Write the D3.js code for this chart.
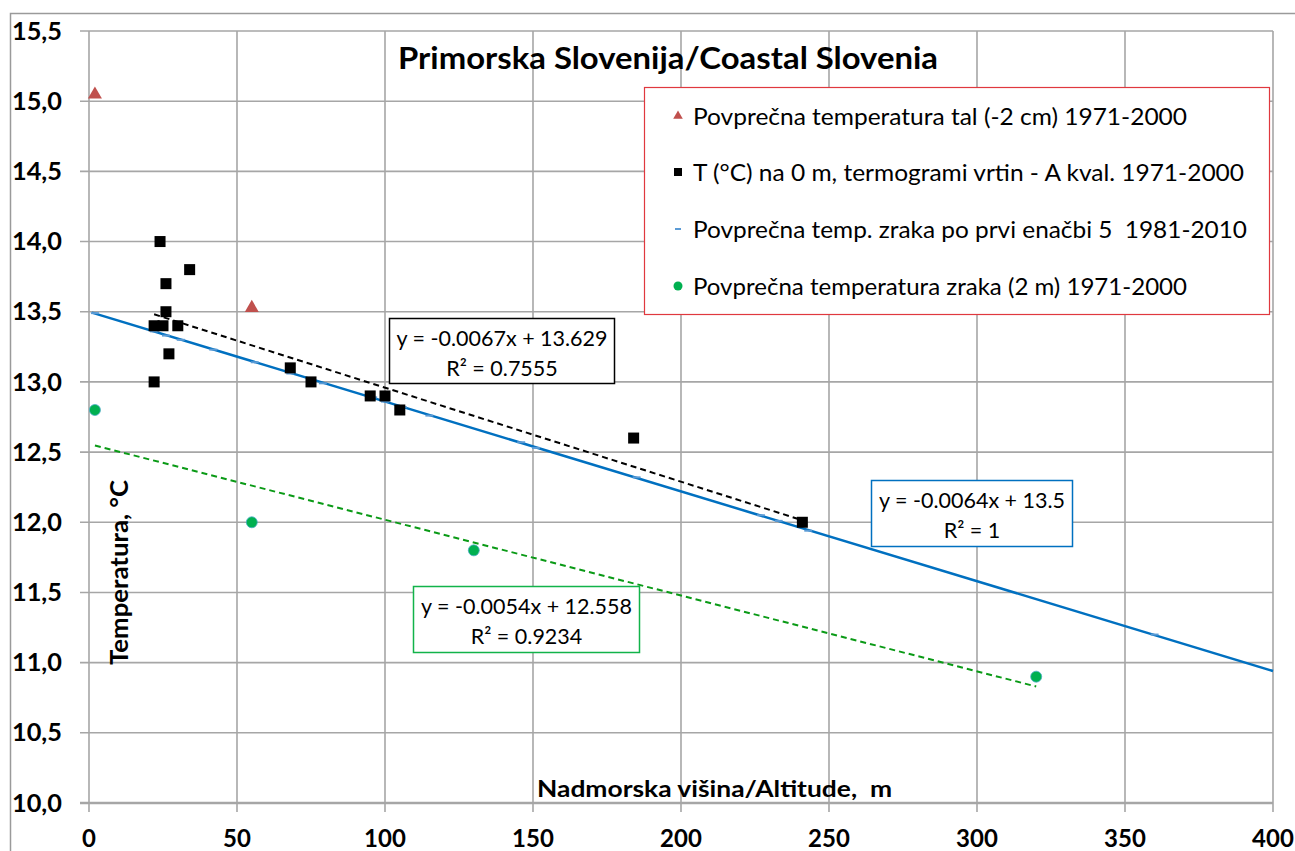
<!DOCTYPE html>
<html><head><meta charset="utf-8">
<script src="https://cdn.jsdelivr.net/npm/d3@7"></script>
<style>body{margin:0;background:#fff}svg{display:block}text{white-space:pre}</style>
</head><body>
<svg id="c" width="1295" height="851"></svg>
<script>
// ---- data ----
const soilX = [2, 55];
const soilY = [15.04, 13.52];
const wellX = [24, 34, 26, 26, 22, 25, 30, 27, 22, 68, 75, 95, 100, 105, 184, 241];
const wellY = [14.0, 13.8, 13.7, 13.5, 13.4, 13.4, 13.4, 13.2, 13.0, 13.1, 13.0, 12.9, 12.9, 12.8, 12.6, 12.0];
const eqX = [2, 22, 26, 31, 42, 56, 68, 79, 96, 100, 106, 115, 146, 151, 185, 227, 233, 243, 360];
const eqY = [13.49, 13.36, 13.33, 13.30, 13.23, 13.14, 13.06, 12.99, 12.89, 12.86, 12.82, 12.76, 12.57, 12.53, 12.32, 12.05, 12.01, 11.94, 11.20];
const airX = [2, 55, 130, 320];
const airY = [12.8, 12.0, 11.8, 10.9];
// trendlines: [slope, intercept, xStart, xEnd]
const trendWell = [-0.0067, 13.629, 22, 241];
const trendEq = [-0.0064, 13.5, 1, 400];
const trendAir = [-0.0054, 12.558, 2, 320];
const xTicks = [0, 50, 100, 150, 200, 250, 300, 350, 400];
const yTicks = [10.0, 10.5, 11.0, 11.5, 12.0, 12.5, 13.0, 13.5, 14.0, 14.5, 15.0, 15.5];
const legendLabels = [
  "Povprečna temperatura tal (-2 cm) 1971-2000",
  "T (°C) na 0 m, termogrami vrtin - A kval. 1971-2000",
  "Povprečna temp. zraka po prvi enačbi 5  1981-2010",
  "Povprečna temperatura zraka (2 m) 1971-2000"
];
const titleText = "Primorska Slovenija/Coastal Slovenia";
const xTitle = "Nadmorska višina/Altitude,  m";
const yTitle = "Temperatura, °C";

// ---- layout ----
const svg = d3.select("#c");
const L = 89, R = 1273, T = 31, B = 803;
const x = d3.scaleLinear().domain([0, 400]).range([L, R]);
const y = d3.scaleLinear().domain([10, 15.5]).range([B, T]);
const FONT = "Lato, 'Open Sans', sans-serif";
const GRID = "#a6a6a6";

// outer chart border
svg.append("path").attr("d", `M10.5,851 V13.5 H1295`).attr("fill", "none").attr("stroke", "#9a9a9a").attr("stroke-width", 1.5);

// gridlines
svg.append("g").selectAll("line").data(yTicks).join("line")
  .attr("x1", L - 9).attr("x2", R).attr("y1", d => y(d)).attr("y2", d => y(d))
  .attr("stroke", GRID).attr("stroke-width", d => d === 10 ? 2.5 : 1.6);
svg.append("g").selectAll("line").data(xTicks).join("line")
  .attr("x1", d => x(d)).attr("x2", d => x(d)).attr("y1", T).attr("y2", B + 9)
  .attr("stroke", GRID).attr("stroke-width", 1.6);

// tick labels
svg.append("g").selectAll("text").data(yTicks).join("text")
  .attr("x", 62).attr("y", d => y(d)).attr("dy", "0.36em").attr("text-anchor", "end")
  .attr("font-family", FONT).attr("font-weight", "bold").attr("font-size", 24).attr("fill", "#000")
  .attr("textLength", 50).attr("lengthAdjust", "spacingAndGlyphs")
  .text(d => d3.format(".1f")(d).replace(".", ","));
svg.append("g").selectAll("text").data(xTicks).join("text")
  .attr("x", d => x(d)).attr("y", 847).attr("text-anchor", "middle")
  .attr("font-family", FONT).attr("font-weight", "bold").attr("font-size", 24).attr("fill", "#000")
  .text(d => d);

// title & axis titles
svg.append("text").attr("x", 398).attr("y", 69)
  .attr("font-family", FONT).attr("font-weight", "bold").attr("font-size", 30)
  .attr("textLength", 540).attr("lengthAdjust", "spacingAndGlyphs").text(titleText);
svg.append("text").attr("x", 537).attr("y", 797)
  .attr("font-family", FONT).attr("font-weight", "bold").attr("font-size", 23)
  .attr("textLength", 355).attr("lengthAdjust", "spacingAndGlyphs").text(xTitle);
svg.append("text").attr("transform", "translate(128,665) rotate(-90)")
  .attr("font-family", FONT).attr("font-weight", "bold").attr("font-size", 24)
  .attr("textLength", 185).attr("lengthAdjust", "spacingAndGlyphs").text(yTitle);

// trendlines
function trend(t, color, dash, w) {
  svg.append("line")
    .attr("x1", x(t[2])).attr("y1", y(t[0] * t[2] + t[1]))
    .attr("x2", x(t[3])).attr("y2", y(t[0] * t[3] + t[1]))
    .attr("stroke", color).attr("stroke-width", w).attr("stroke-dasharray", dash);
}
trend(trendEq, "#0070c0", null, 2.5);
trend(trendWell, "#000", "6,4", 2);
trend(trendAir, "#0a9a16", "6,4", 2);

// blue dash markers
svg.append("g").selectAll("line").data(eqX).join("line")
  .attr("x1", (d) => x(d) - 4).attr("x2", (d) => x(d) + 4)
  .attr("y1", (d, i) => y(eqY[i])).attr("y2", (d, i) => y(eqY[i]))
  .attr("stroke", "#5b9bd5").attr("stroke-width", 2);

// squares
svg.append("g").selectAll("rect").data(wellX).join("rect")
  .attr("x", d => x(d) - 5.5).attr("y", (d, i) => y(wellY[i]) - 5.5)
  .attr("width", 11).attr("height", 11).attr("fill", "#000");

// triangles
const tri = d3.symbol().type(d3.symbolTriangle).size(85);
svg.append("g").selectAll("path").data(soilX).join("path")
  .attr("transform", (d, i) => `translate(${x(d)},${y(soilY[i]) - 1})`)
  .attr("d", tri).attr("fill", "#c0504d");

// green circles
svg.append("g").selectAll("circle").data(airX).join("circle")
  .attr("cx", d => x(d)).attr("cy", (d, i) => y(airY[i])).attr("r", 5.5)
  .attr("fill", "#00b050").attr("stroke", "#4bacc6").attr("stroke-width", 0.8);

// equation boxes
function eqBox(x0, y0, w, h, color, l1, l2) {
  svg.append("rect").attr("x", x0).attr("y", y0).attr("width", w).attr("height", h)
    .attr("fill", "#fff").attr("stroke", color).attr("stroke-width", 1.5);
  svg.append("text").attr("x", x0 + w / 2).attr("y", y0 + 27).attr("text-anchor", "middle")
    .attr("font-family", FONT).attr("font-size", 21.5).text(l1);
  svg.append("text").attr("x", x0 + w / 2).attr("y", y0 + 57).attr("text-anchor", "middle")
    .attr("font-family", FONT).attr("font-size", 21.5).text(l2);
}
eqBox(389.5, 318.5, 225, 65, "#000", "y = -0.0067x + 13.629", "R² = 0.7555");
eqBox(871.5, 480.5, 201, 66, "#0070c0", "y = -0.0064x + 13.5", "R² = 1");
eqBox(413.5, 586.5, 226, 66, "#12b34a", "y = -0.0054x + 12.558", "R² = 0.9234");

// legend
const lg = svg.append("g");
lg.append("rect").attr("x", 644.5).attr("y", 87.5).attr("width", 625).attr("height", 227)
  .attr("fill", "#fff").attr("stroke", "#e0383e").attr("stroke-width", 1.2);
const ly = [116, 172, 229, 286];
const lw = [494, 551, 554, 494];
lg.selectAll("text").data(legendLabels).join("text")
  .attr("x", 693).attr("y", (d, i) => ly[i]).attr("dy", "0.36em")
  .attr("font-family", FONT).attr("font-size", 24)
  .attr("textLength", (d, i) => lw[i]).attr("lengthAdjust", "spacingAndGlyphs")
  .text(d => d);
lg.append("path").attr("transform", `translate(678,${ly[0]})`).attr("d", d3.symbol().type(d3.symbolTriangle).size(40)).attr("fill", "#c0504d");
lg.append("rect").attr("x", 674).attr("y", ly[1] - 4).attr("width", 8).attr("height", 8).attr("fill", "#000");
lg.append("line").attr("x1", 675).attr("x2", 681).attr("y1", ly[2]).attr("y2", ly[2]).attr("stroke", "#5b9bd5").attr("stroke-width", 2);
lg.append("circle").attr("cx", 678).attr("cy", ly[3]).attr("r", 4.5).attr("fill", "#00b050");
</script>
</body></html>
